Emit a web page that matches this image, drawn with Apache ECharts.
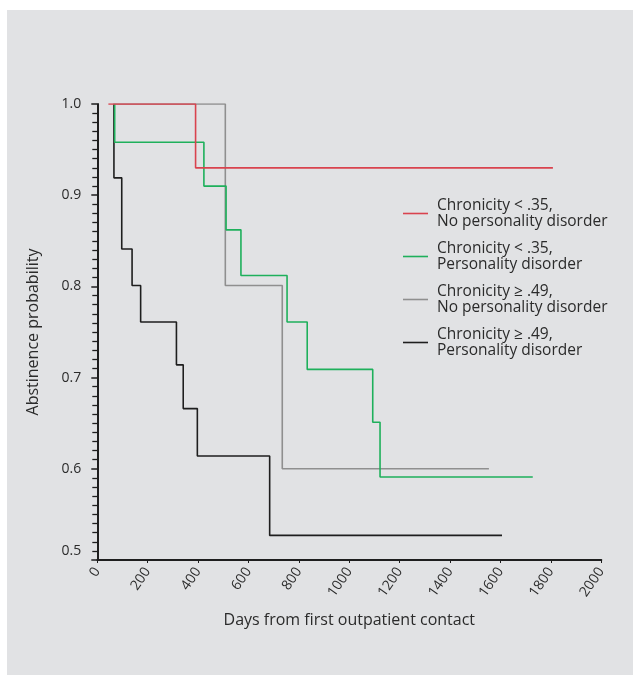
<!DOCTYPE html>
<html>
<head>
<meta charset="utf-8">
<script src="https://cdn.jsdelivr.net/npm/echarts@6/dist/echarts.min.js"></script>
<style>
  html, body { margin: 0; padding: 0; background: #ffffff; width: 633px; height: 675px; overflow: hidden; }
  #wrap { position: absolute; left: 7px; top: 10px; width: 626px; height: 665px; background: #e1e2e4; }
  #chart { width: 626px; height: 665px; }
</style>
</head>
<body>
<div id="wrap"><div id="chart"></div></div>
<script>
// Series names (legend order)
const seriesNames = [
  'Chronicity < .35,\nNo personality disorder',
  'Chronicity < .35,\nPersonality disorder',
  'Chronicity \u2265 .49,\nNo personality disorder',
  'Chronicity \u2265 .49,\nPersonality disorder'
];

// Kaplan-Meier steps: day of each step and survival value after it
const redDays   = [44, 390, 1808];
const redSurv   = [1.0, 0.930, 0.930];

const greenDays = [69, 69, 423, 511, 570, 753, 833, 1093, 1122, 1728];
const greenSurv = [1.0, 0.958, 0.910, 0.862, 0.812, 0.761, 0.709, 0.651, 0.591, 0.591];

const grayDays  = [63, 508, 734, 1554];
const graySurv  = [1.0, 0.801, 0.600, 0.600];

const blackDays = [66, 66, 97, 138, 172, 314, 341, 397, 684, 1606];
const blackSurv = [1.0, 0.919, 0.841, 0.801, 0.761, 0.714, 0.666, 0.614, 0.527, 0.527];

// Axis ticks
const xMin = 0, xMax = 2000, xStep = 200;
const yMin = 0.5, yMax = 1.0, yStep = 0.1;

const colors = ['#d9434e', '#1eb05b', '#8f8f8f', '#1e1e1e'];

function zip(a, b) { return a.map((d, i) => [d, b[i]]); }

const txt = '#2b2b2b';
const font = 'Open Sans';

const chart = echarts.init(document.getElementById('chart'), null, { renderer: 'canvas' });

function mk(name, days, surv, color) {
  return {
    name: name,
    type: 'line',
    step: 'end',
    data: zip(days, surv),
    symbol: 'none',
    showSymbol: false,
    color: color,
    itemStyle: { color: color },
    lineStyle: { color: color, width: 1.6 },
    animation: false
  };
}

chart.setOption({
  backgroundColor: 'transparent',
  animation: false,
  textStyle: { fontFamily: font },
  grid: { left: 90.3, right: 31.7, top: 94, bottom: 115, containLabel: false },
  legend: {
    data: seriesNames.map((n, i) => ({ name: n, icon: 'rect', itemStyle: { color: colors[i] } })),
    orient: 'vertical',
    left: 391,
    top: 182,
    itemWidth: 25,
    itemHeight: 1.6,
    itemGap: 10,
    textStyle: { fontFamily: font, fontSize: 15.5, color: txt, lineHeight: 16.5, padding: [0, 0, 0, 4] },
    selectedMode: false
  },
  xAxis: {
    type: 'value',
    min: xMin, max: xMax, interval: xStep,
    name: 'Days from first outpatient contact',
    nameLocation: 'middle',
    nameGap: 52,
    nameTextStyle: { fontFamily: font, fontSize: 16, color: txt },
    axisLine: { show: true, onZero: false, lineStyle: { color: '#1e1e1e', width: 2 } },
    axisTick: { show: true, length: 3, lineStyle: { color: '#1e1e1e', width: 1 } },
    axisLabel: {
      rotate: 55, margin: 9, fontFamily: font, fontSize: 14, color: txt,
      formatter: function (v) { return String(v); }
    },
    splitLine: { show: false }
  },
  yAxis: {
    type: 'value',
    min: yMin, max: yMax, interval: yStep,
    name: 'Abstinence probability',
    nameLocation: 'middle',
    nameGap: 56,
    nameTextStyle: { fontFamily: font, fontSize: 16, color: txt },
    axisLine: { show: true, onZero: false, lineStyle: { color: '#1e1e1e', width: 2 } },
    axisTick: { show: true, length: 6, lineStyle: { color: '#1e1e1e', width: 1.5 } },
    minorTick: { show: true, splitNumber: 10, length: 5, lineStyle: { color: '#1e1e1e', width: 1.3 } },
    axisLabel: {
      margin: 16, fontFamily: font, fontSize: 14, color: txt,
      formatter: function (v) {
        const s = v.toFixed(1);
        return Math.abs(v - 0.5) < 1e-9 ? '{low|' + s + '}' : s;
      },
      rich: { low: { fontFamily: font, fontSize: 14, color: txt, padding: [0, 0, 18, 0] } }
    },
    splitLine: { show: false },
    minorSplitLine: { show: false }
  },
  series: [
    mk(seriesNames[3], blackDays, blackSurv, colors[3]),
    mk(seriesNames[2], grayDays, graySurv, colors[2]),
    mk(seriesNames[1], greenDays, greenSurv, colors[1]),
    mk(seriesNames[0], redDays, redSurv, colors[0])
  ]
});
</script>
</body>
</html>
